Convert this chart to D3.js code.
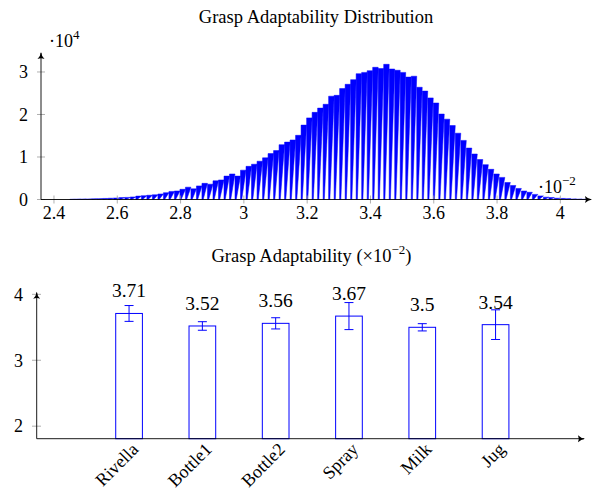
<!DOCTYPE html>
<html><head><meta charset="utf-8">
<script src="https://cdn.jsdelivr.net/npm/d3@7"></script>
<style>
body{margin:0;background:#fff}
svg{display:block}
</style>
</head><body>
<svg id="c" width="599" height="496" font-family="'Liberation Serif', 'DejaVu Serif', serif"></svg>
<script>
// ---------- Data: histogram (x in units of 10^-2, counts) ----------
const histStart = 2.45;
const histBinWidth = 0.0174;
const histCounts = [
  50, 80, 100, 120, 150, 200, 250, 300, 350, 450,
  500, 600, 800, 900, 1000, 1100, 1300, 1600, 1900, 2000,
  2400, 2900, 2500, 3200, 3800, 3600, 4400, 4600, 5500, 6000,
  5500, 6900, 7800, 8300, 9000, 9800, 10800, 11500, 12900, 13500,
  14000, 15100, 17500, 19200, 20500, 21500, 22400, 24300, 24500, 26100,
  27100, 28200, 29600, 29900, 30300, 31100, 30800, 31800, 30700, 30400,
  29900, 28800, 29000, 26400, 25500, 23900, 22700, 20100, 18900, 17400,
  15600, 13900, 12100, 10700, 9400, 8200, 7100, 6000, 5200, 4000,
  3300, 2600, 2000, 1700, 1200, 850, 550, 450, 300, 250,
  200, 120, 80, 50
];
const histXTicks = [2.4, 2.6, 2.8, 3.0, 3.2, 3.4, 3.6, 3.8, 4.0];
const histYTicks = [0, 1, 2, 3]; // ×10^4

// ---------- Data: bar chart ----------
const categories = ["Rivella", "Bottle1", "Bottle2", "Spray", "Milk", "Jug"];
const means = [3.71, 3.52, 3.56, 3.67, 3.50, 3.54];
const errors = [0.12, 0.065, 0.085, 0.205, 0.055, 0.225];
const barYTicks = [2, 3, 4];

const svg = d3.select("#c");
const FS = 18;
const BLUE = "#0000ff";

// arrow marker
const defs = svg.append("defs");
defs.append("marker").attr("id","arr").attr("viewBox","-7 -4 9 8")
  .attr("refX",0).attr("refY",0).attr("markerWidth",9).attr("markerHeight",8)
  .attr("markerUnits","userSpaceOnUse").attr("orient","auto")
  .append("path").attr("d","M-6,-3.5 Q-3,-0.5 1,0 Q-3,0.5 -6,3.5 Q-4.5,0 -6,-3.5Z")
  .attr("fill","#000");

// ================= TOP: histogram =================
const hx = d3.scaleLinear().domain([2.359, 4.1]).range([41, 592]);
const hy = d3.scaleLinear().domain([0, 3.47]).range([199.5, 52]);

svg.append("text").attr("x", 316).attr("y", 22.5).attr("text-anchor","middle")
  .attr("font-size", 18.5).text("Grasp Adaptability Distribution");

const hist = svg.append("g");
histCounts.forEach((c, i) => {
  const b0 = histStart + i * histBinWidth, b1 = b0 + histBinWidth;
  const v = c / 1e4;
  const pts = [[hx(b0), hy(0)], [hx(b0), hy(v)], [hx(b1), hy(v)], [hx(b0 + 0.22 * histBinWidth), hy(0)]];
  hist.append("path").attr("d", d3.line()(pts) + "Z")
    .attr("fill", BLUE).attr("stroke", BLUE).attr("stroke-width", 0.5).attr("stroke-linejoin","miter");
});

// ticks
const ht = svg.append("g");
histXTicks.forEach(t => {
  ht.append("line").attr("x1", hx(t)).attr("x2", hx(t)).attr("y1", hy(0) - 4).attr("y2", hy(0) + 4)
    .attr("stroke", "#9a9a9a").attr("stroke-width", 0.8);
  ht.append("text").attr("x", hx(t)).attr("y", 219).attr("text-anchor","middle")
    .attr("font-size", FS).text(String(+t.toFixed(1)));
});
histYTicks.forEach(t => {
  ht.append("line").attr("x1", 37).attr("x2", 45).attr("y1", hy(t)).attr("y2", hy(t))
    .attr("stroke", "#9a9a9a").attr("stroke-width", 0.8);
  ht.append("text").attr("x", 28).attr("y", hy(t) + 6.3).attr("text-anchor","end")
    .attr("font-size", FS).text(String(t));
});
// axes
svg.append("line").attr("x1", hx.range()[0]).attr("x2", hx.range()[1] - 1).attr("y1", hy(0)).attr("y2", hy(0))
  .attr("stroke","#000").attr("stroke-width",0.9).attr("marker-end","url(#arr)");
svg.append("line").attr("x1", hx.range()[0]).attr("x2", hx.range()[0]).attr("y1", hy(0)).attr("y2", hy.range()[1] + 1)
  .attr("stroke","#000").attr("stroke-width",0.9).attr("marker-end","url(#arr)");
// scale labels
const t1 = svg.append("text").attr("x", 49).attr("y", 46.5).attr("font-size", FS);
t1.append("tspan").text("·10");
t1.append("tspan").attr("dy", -8).attr("font-size", 13).text("4");
const t2 = svg.append("text").attr("x", 538).attr("y", 192.5).attr("font-size", FS);
t2.append("tspan").text("·10");
t2.append("tspan").attr("dy", -8).attr("font-size", 13).text("−2");

// ================= BOTTOM: bar chart =================
const bx = d3.scaleLinear().domain([-1.26, 6.22]).range([36.7, 585]);
const by = d3.scaleLinear().domain([1.81, 4.04]).range([438.7, 291.7]);
const bw = 0.364;

const tb = svg.append("text").attr("x", 311.5).attr("y", 261.5).attr("text-anchor","middle").attr("font-size", 18.5);
tb.append("tspan").text("Grasp Adaptability (×10");
tb.append("tspan").attr("dy", -8).attr("font-size", 13).text("−2");
tb.append("tspan").attr("dy", 8).text(")");

barYTicks.forEach(t => {
  svg.append("line").attr("x1", 32).attr("x2", 41).attr("y1", by(t)).attr("y2", by(t))
    .attr("stroke", "#9a9a9a").attr("stroke-width", 0.8);
  svg.append("text").attr("x", 23).attr("y", by(t) + 6.3).attr("text-anchor","end")
    .attr("font-size", FS).text(String(t));
});

const bars = svg.append("g");
categories.forEach((c, i) => {
  const m = means[i], e = errors[i];
  bars.append("rect").attr("x", bx(i - bw / 2)).attr("width", bx(i + bw / 2) - bx(i - bw / 2))
    .attr("y", by(m)).attr("height", by(by.domain()[0]) - by(m))
    .attr("fill","#fff").attr("stroke", BLUE).attr("stroke-width", 1);
  const cx = bx(i);
  bars.append("line").attr("x1", cx).attr("x2", cx).attr("y1", by(m + e)).attr("y2", by(m - e))
    .attr("stroke", BLUE).attr("stroke-width", 1);
  [m + e, m - e].forEach(v => bars.append("line").attr("x1", cx - 4.5).attr("x2", cx + 4.5)
    .attr("y1", by(v)).attr("y2", by(v)).attr("stroke", BLUE).attr("stroke-width", 1));
  bars.append("text").attr("x", cx).attr("y", by(m) - 16).attr("text-anchor","middle")
    .attr("font-size", 19.5).text(String(m));
  svg.append("text").attr("text-anchor","end")
    .attr("transform", `translate(${cx + 6},${446}) rotate(-45)`)
    .attr("dy", "0.35em").attr("font-size", FS).text(c);
});

svg.append("line").attr("x1", bx.range()[0]).attr("x2", bx.range()[1] - 1).attr("y1", by.range()[0]).attr("y2", by.range()[0])
  .attr("stroke","#000").attr("stroke-width",0.9).attr("marker-end","url(#arr)");
svg.append("line").attr("x1", bx.range()[0]).attr("x2", bx.range()[0]).attr("y1", by.range()[0]).attr("y2", by.range()[1] + 1)
  .attr("stroke","#000").attr("stroke-width",0.9).attr("marker-end","url(#arr)");
</script>
</body></html>
